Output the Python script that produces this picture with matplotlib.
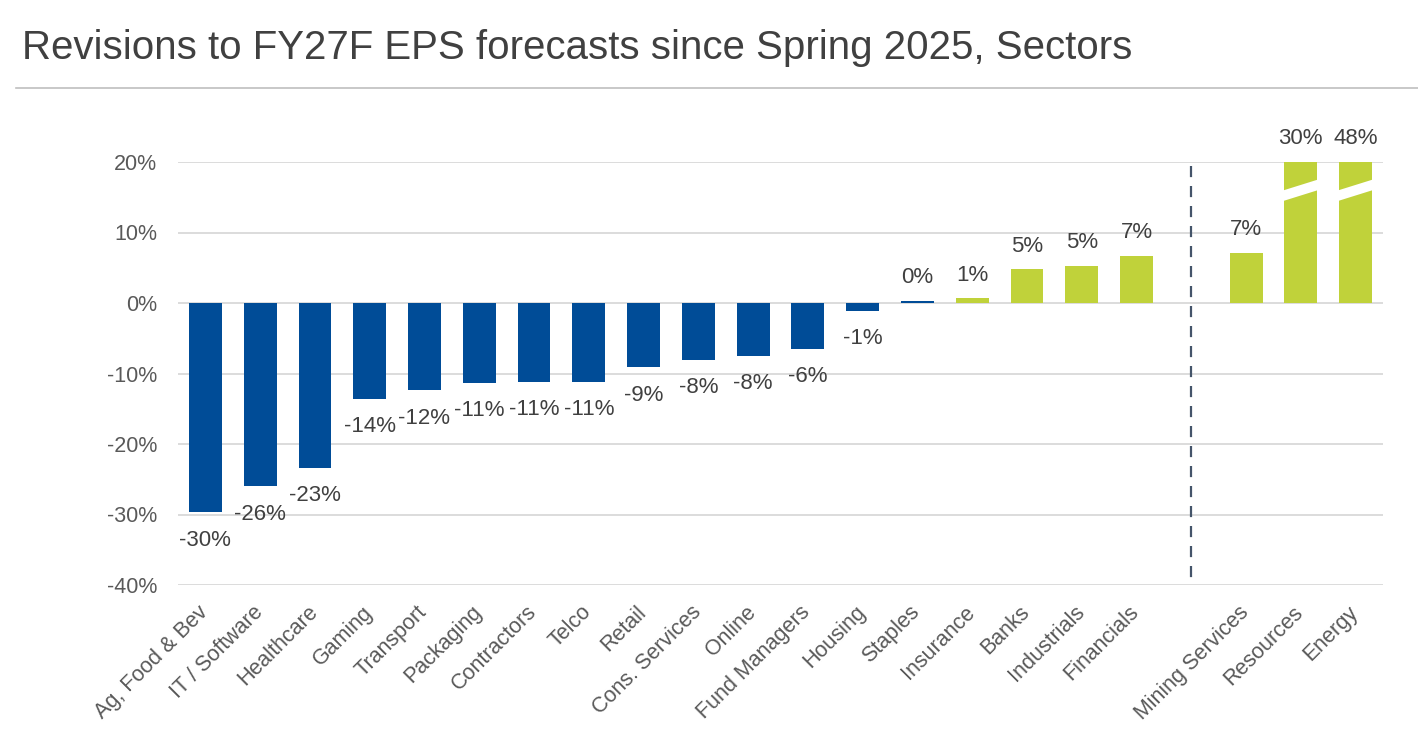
import matplotlib.pyplot as plt
from matplotlib.patches import Polygon
from matplotlib.transforms import ScaledTranslation
import numpy as np

plt.rcParams['font.family'] = ['Liberation Sans', 'DejaVu Sans']

# %% data
sectors = ['Ag, Food & Bev', 'IT / Software', 'Healthcare', 'Gaming', 'Transport',
           'Packaging', 'Contractors', 'Telco', 'Retail', 'Cons. Services', 'Online',
           'Fund Managers', 'Housing', 'Staples', 'Insurance', 'Banks', 'Industrials',
           'Financials']
sector_vals = [-29.7, -26.0, -23.4, -13.6, -12.4, -11.3, -11.2, -11.2, -9.1, -8.1,
               -7.5, -6.5, -1.1, 0.3, 0.7, 4.8, 5.3, 6.7]
resources = ['Mining Services', 'Resources', 'Energy']
resource_vals = [7.1, 30.0, 48.0]
n_blue = 14  # Ag, Food & Bev .. Staples drawn in blue

yticks = [-40, -30, -20, -10, 0, 10, 20]

blue = '#004C97'
green = '#C0D23A'
txt = '#404040'

# %% layout: one empty slot between the two groups
labels = sectors + [''] + resources
vals = sector_vals + [np.nan] + resource_vals
x = np.arange(len(labels))
colors = [blue] * n_blue + [green] * (len(labels) - n_blue)

fig = plt.figure(figsize=(14.18, 7.48), dpi=100)
ax = fig.add_axes([178/1418, 163/748, (1383-178)/1418, (586-163)/748])

bars = ax.bar(x, np.nan_to_num(vals), 0.6, color=colors, zorder=3)

ax.set_ylim(-40, 20)
ax.set_xlim(-0.5, len(labels) - 0.5)
ax.set_yticks(yticks, [f'{t}%' for t in yticks])
ax.set_xticks(x, labels, rotation=45, ha='right', rotation_mode='anchor')
ax.tick_params(axis='y', length=0, pad=15, labelsize=15.5, labelcolor='#595959')
ax.tick_params(axis='x', length=0, pad=12, labelsize=15.5, labelcolor='#595959')
shift = ScaledTranslation(-8/100, 0, fig.dpi_scale_trans)
for lbl in ax.get_xticklabels():
    lbl.set_transform(lbl.get_transform() + shift)
ax.grid(axis='y', color='#D9D9D9', lw=1.3, zorder=0)
for s in ax.spines.values():
    s.set_visible(False)

# data labels, capped at the top of the axis for the broken bars
for b, v in zip(bars, vals):
    if np.isnan(v):
        continue
    cx = b.get_x() + b.get_width() / 2
    y = min(v, 20)
    if v >= 0:
        ax.annotate(f'{v:.0f}%', (cx, y), xytext=(0, 9), textcoords='offset points',
                    ha='center', va='bottom', fontsize=16, color=txt, annotation_clip=False)
    else:
        ax.annotate(f'{v:.0f}%', (cx, y), xytext=(0, -12.5), textcoords='offset points',
                    ha='center', va='top', fontsize=16, color=txt)
    # break marks on bars running past the axis
    if v > 20:
        x0 = b.get_x() - 0.05
        x1 = b.get_x() + b.get_width() + 0.05
        ax.add_patch(Polygon([(x0, 14.4), (x0, 15.9), (x1, 17.6), (x1, 16.1)],
                             closed=True, color='white', zorder=4, lw=0))

# dashed divider in the empty slot
gap = len(sectors)
ax.plot([gap, gap], [19.4, -40], ls=(0, (5, 4)), color='#44546A', lw=1.6,
        clip_on=False, zorder=2)

# title and rule
fig.text(22/1418, 1 - 48/748, 'Revisions to FY27F EPS forecasts since Spring 2025, Sectors',
         fontsize=29, color=txt, va='center', ha='left')
fig.add_artist(plt.Line2D([16/1418, 1], [1 - 88/748, 1 - 88/748], color='#BFBFBF', lw=1.2))

fig.savefig('out.png', dpi=100)
plt.close()
